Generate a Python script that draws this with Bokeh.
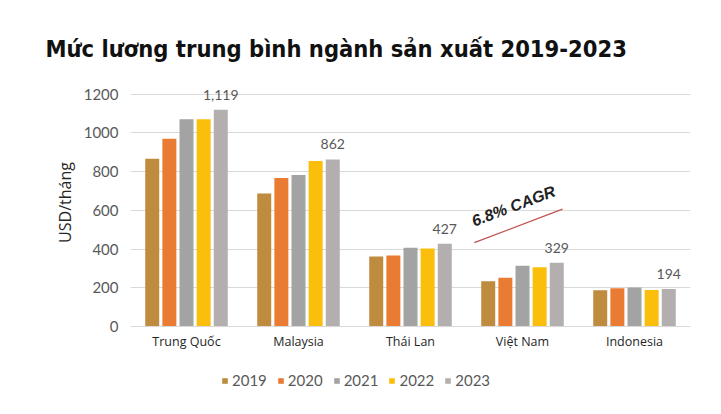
from bokeh.plotting import figure
from bokeh.layouts import column
from bokeh.models import (FactorRange, Range1d, ColumnDataSource, Legend, LegendItem,
                          FixedTicker, Title)
from bokeh.transform import dodge
from bokeh.core.properties import value
from bokeh.embed import file_html
from bokeh.resources import INLINE

countries = ["Trung Quốc", "Malaysia", "Thái Lan", "Việt Nam", "Indonesia"]
years = ["2019", "2020", "2021", "2022", "2023"]
v2019 = [866, 687, 361, 233, 187]
v2020 = [969, 766, 366, 251, 197]
v2021 = [1070, 782, 406, 314, 201]
v2022 = [1070, 854, 402, 306, 189]
v2023 = [1119, 862, 427, 329, 194]
label_2023 = ["1,119", "862", "427", "329", "194"]
y_ticks = [0, 200, 400, 600, 800, 1000, 1200]
colors = ["#BF8B3F", "#EA7B32", "#A3A3A3", "#FBBF0B", "#B3AFAF"]
title_text = "Mức lương trung bình ngành sản xuất 2019-2023"
cagr_text = "6.8% CAGR"

series = [v2019, v2020, v2021, v2022, v2023]
data = {"cat": countries}
for y, s in zip(years, series):
    data["y" + y] = s
data["lab"] = label_2023
data["laby"] = [v + 78 for v in v2023]
src = ColumnDataSource(data)

p = figure(width=705, height=358, x_range=FactorRange(*countries, range_padding=0),
           y_range=Range1d(0, 1280), output_backend="svg", toolbar_location=None,
           min_border_left=130, min_border_right=15, min_border_top=78, min_border_bottom=32)
p.outline_line_color = None
p.background_fill_color = "white"
p.border_fill_color = "white"

step = 0.153
width = 0.125
for i, (y, c) in enumerate(zip(years, colors)):
    off = (i - 2) * step
    p.vbar(x=dodge("cat", off, range=p.x_range), top="y" + y, width=width,
           source=src, color=c, line_color=None)

p.text(x=dodge("cat", 2 * step, range=p.x_range), y="laby", text="lab", source=src,
       text_align="center", text_baseline="middle", text_font=value("Lato"),
       text_font_size="14px", text_color="#595959")

# CAGR annotation
p.segment(x0=[3.07], y0=[433], x1=[3.857], y1=[606], line_color="#C0504D", line_width=1.2)
p.text(x=[3.42], y=[622], text=[cagr_text], angle=0.36, text_align="center",
       text_baseline="middle", text_font=value("Liberation Sans"), text_font_style="bold italic",
       text_font_size="16px", text_color="#222222")

p.xgrid.grid_line_color = None
p.ygrid.grid_line_color = "#D9D9D9"
p.ygrid.grid_line_width = 1
p.yaxis.ticker = FixedTicker(ticks=y_ticks)
p.yaxis.axis_line_color = None
p.yaxis.major_tick_line_color = None
p.yaxis.minor_tick_line_color = None
p.yaxis.major_tick_out = 0
p.yaxis.minor_tick_out = 0
p.yaxis.major_label_standoff = 12
p.yaxis.major_label_text_font = "Lato"
p.yaxis.major_label_text_font_size = "15px"
p.yaxis.major_label_text_color = "#595959"
p.yaxis.axis_label = "USD/tháng"
p.yaxis.axis_label_text_font = "Open Sans"
p.yaxis.axis_label_text_font_style = "normal"
p.yaxis.axis_label_text_font_size = "16px"
p.yaxis.axis_label_text_color = "#262626"
p.yaxis.axis_label_standoff = 5

p.xaxis.axis_line_color = "#D9D9D9"
p.xaxis.major_tick_line_color = None
p.xaxis.minor_tick_line_color = None
p.xaxis.major_tick_out = 0
p.xaxis.minor_tick_out = 0
p.xaxis.major_label_standoff = 6
p.xaxis.major_label_text_font = "Open Sans"
p.xaxis.major_label_text_font_size = "12.5px"
p.xaxis.major_label_text_color = "#262626"

title = Title(text=title_text, text_font="DejaVu Sans Condensed", text_font_style="bold",
              text_font_size="23.5px", text_color="#111111", offset=-85, standoff=32)
p.add_layout(title, "above")

# legend strip
p2 = figure(width=705, height=40, x_range=Range1d(0, 1), y_range=Range1d(0, 1),
            output_backend="svg", toolbar_location=None,
            min_border_left=0, min_border_right=0, min_border_top=0, min_border_bottom=0)
p2.axis.visible = False
p2.grid.grid_line_color = None
p2.outline_line_color = None
p2.border_fill_color = "white"
leg_renderers = []
for y, c in zip(years, colors):
    r = p2.vbar(x=dodge("cat", 0, range=p.x_range), top="y" + y, width=width,
                source=src, color=c, line_color=None, visible=False)
    leg_renderers.append(r)
items = [LegendItem(label=y, renderers=[r]) for y, r in zip(years, leg_renderers)]
legend = Legend(items=items, orientation="horizontal", location=(91, 9),
                glyph_width=7, glyph_height=7, label_standoff=4, spacing=10,
                label_text_font="Lato", label_text_font_size="15px",
                label_text_color="#595959", border_line_color=None,
                background_fill_alpha=0, padding=0, margin=0,
                inactive_fill_alpha=0, click_policy="none")
p2.add_layout(legend, "center")

layout = column(p, p2, spacing=0)
open("out.html", "w").write(file_html(layout, INLINE))
